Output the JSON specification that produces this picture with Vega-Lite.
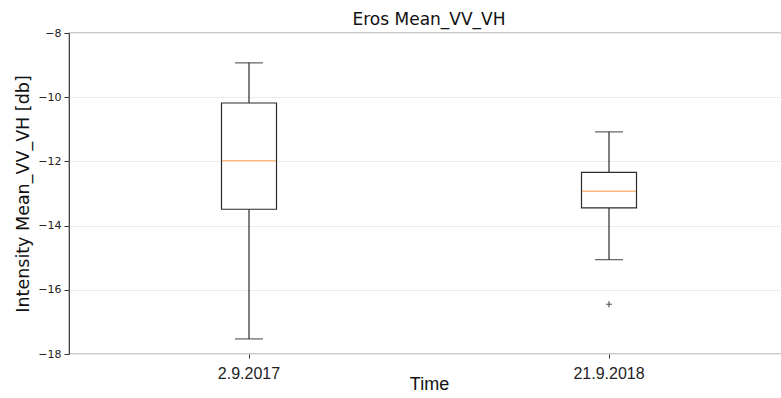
{
  "$schema": "https://vega.github.io/schema/vega-lite/v6.json",
  "width": 720,
  "height": 321,
  "autosize": {"type": "none"},
  "padding": {"left": 69, "top": 33, "right": 0, "bottom": 44},
  "background": "white",
  "config": {
    "view": {"stroke": "#333333", "strokeWidth": 1.2},
    "axis": {"domain": false, "tickColor": "#333333", "labelColor": "#222222", "titleColor": "#111111"}
  },
  "title": {
    "text": "Eros Mean_VV_VH",
    "font": "DejaVu Sans",
    "fontSize": 17,
    "fontWeight": "normal",
    "color": "#111111",
    "anchor": "middle",
    "frame": "group",
    "baseline": "alphabetic",
    "offset": 8,
    "dy": 23
  },
  "datasets": {
    "stats": [
      {"date": "2.9.2017", "lower": -17.53, "q1": -13.49, "median": -11.98, "q3": -10.18, "upper": -8.93},
      {"date": "21.9.2018", "lower": -15.06, "q1": -13.45, "median": -12.93, "q3": -12.34, "upper": -11.08}
    ],
    "outliers": [
      {"date": "21.9.2018", "value": -16.45}
    ]
  },
  "encoding": {
    "x": {
      "field": "date",
      "type": "nominal",
      "sort": null,
      "scale": {"domain": ["2.9.2017", "21.9.2018"], "paddingInner": 0, "paddingOuter": 0},
      "axis": {
        "title": "Time",
        "labelAngle": 0,
        "labelFont": "Liberation Sans",
        "labelFontSize": 16,
        "tickSize": 4,
        "labelPadding": 7,
        "titleFont": "Liberation Sans",
        "titleFontSize": 18,
        "titleFontWeight": "normal",
        "titleBaseline": "top",
        "titleY": 21,
        "grid": false
      }
    }
  },
  "layer": [
    {
      "data": {"name": "stats"},
      "mark": {"type": "rule", "color": "#2b2b2b", "strokeWidth": 1.2},
      "encoding": {
        "y": {
          "field": "lower",
          "type": "quantitative",
          "scale": {"domain": [-18, -8], "nice": false, "zero": false},
          "axis": {
            "title": "Intensity Mean_VV_VH [db]",
            "values": [-18, -16, -14, -12, -10, -8],
            "grid": true,
            "gridColor": "#ebebeb",
            "gridWidth": 1,
            "labelFont": "DejaVu Sans",
            "labelFontSize": 11,
            "tickSize": 5,
            "labelPadding": 3,
            "titleFont": "DejaVu Sans",
            "titleFontSize": 17.5,
            "titleFontWeight": "normal",
            "titleBaseline": "middle",
            "titleX": -46
          }
        },
        "y2": {"field": "upper"}
      }
    },
    {
      "data": {"name": "stats"},
      "mark": {"type": "bar", "size": 55, "fill": "white", "stroke": "#2b2b2b", "strokeWidth": 1.2},
      "encoding": {
        "y": {"field": "q1", "type": "quantitative"},
        "y2": {"field": "q3"}
      }
    },
    {
      "data": {"name": "stats"},
      "mark": {"type": "tick", "size": 28, "thickness": 1.3, "color": "#2b2b2b", "orient": "horizontal"},
      "encoding": {"y": {"field": "lower", "type": "quantitative"}}
    },
    {
      "data": {"name": "stats"},
      "mark": {"type": "tick", "size": 28, "thickness": 1.3, "color": "#2b2b2b", "orient": "horizontal"},
      "encoding": {"y": {"field": "upper", "type": "quantitative"}}
    },
    {
      "data": {"name": "stats"},
      "mark": {"type": "tick", "size": 54, "thickness": 1.4, "color": "#f79a4a", "orient": "horizontal"},
      "encoding": {"y": {"field": "median", "type": "quantitative"}}
    },
    {
      "data": {"name": "outliers"},
      "mark": {"type": "point", "shape": "M-1,0H1M0,-1V1", "size": 36, "filled": false, "stroke": "#111111", "strokeWidth": 1.2},
      "encoding": {"y": {"field": "value", "type": "quantitative"}}
    }
  ]
}
